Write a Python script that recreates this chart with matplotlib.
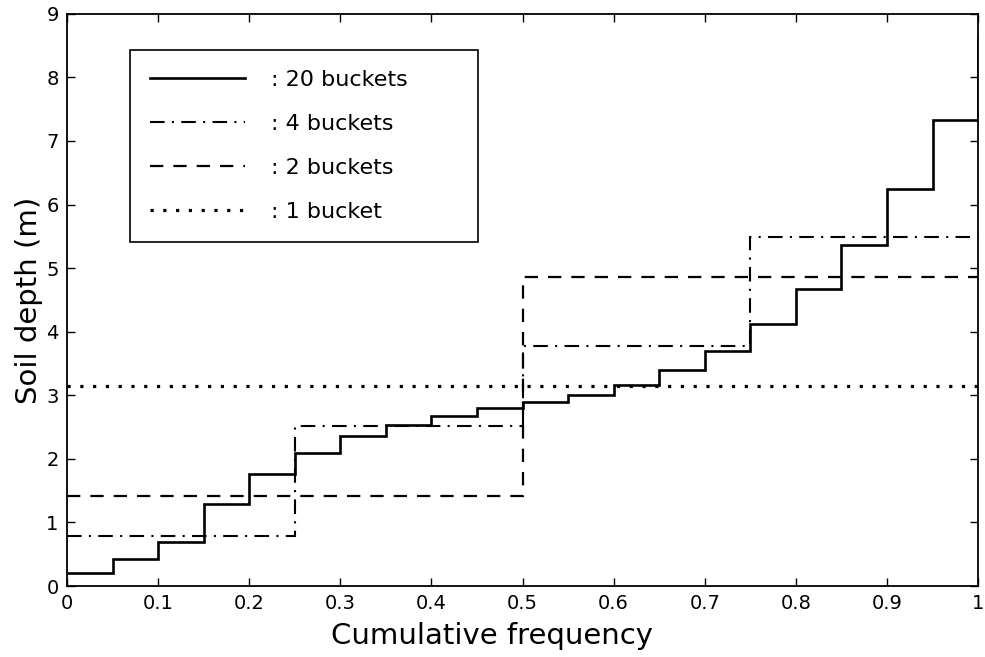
import numpy as np
import matplotlib
matplotlib.use('Agg')
import matplotlib.pyplot as plt
from matplotlib.lines import Line2D

# mean soil depth (m) of each bucket, buckets of equal cumulative frequency
DEPTH_20 = [0.20, 0.42, 0.70, 1.29, 1.76, 2.10, 2.36, 2.53, 2.67, 2.80,
            2.89, 3.01, 3.16, 3.39, 3.70, 4.12, 4.67, 5.37, 6.25, 7.33]
DEPTH_4 = [0.79, 2.52, 3.77, 5.49]
DEPTH_2 = [1.42, 4.86]
DEPTH_1 = [3.14]
MAX_DEPTH = 8.62  # deepest observed soil

LABELS = [': 20 buckets', ': 4 buckets', ': 2 buckets', ': 1 bucket']
STYLES = [
    dict(linewidth=1.9, linestyle='-'),
    dict(linewidth=1.5, linestyle=(0, (7, 3.5, 1, 3.5))),
    dict(linewidth=1.6, linestyle=(0, (6, 4.5))),
    dict(linewidth=2.3, linestyle=(0, (1, 3))),
]

plt.rcParams['font.family'] = 'DejaVu Sans'

fig = plt.figure(figsize=(9.85, 6.57), dpi=100)
ax = fig.add_axes([0.068, 0.108, 0.925, 0.871])

for depths, st in zip([DEPTH_20, DEPTH_4, DEPTH_2, DEPTH_1], STYLES):
    edges = np.linspace(0, 1, len(depths) + 1)
    ax.stairs(depths, edges, baseline=None, color='black', **st)
# last 20-bucket step climbs to the maximum depth at the right edge
ax.plot([1, 1], [DEPTH_20[-1], MAX_DEPTH], color='black', **STYLES[0])

ax.set_xlim(0, 1)
ax.set_ylim(0, 9)
ax.set_xticks(np.arange(0, 1.01, 0.1))
ax.set_xticklabels(['0', '0.1', '0.2', '0.3', '0.4', '0.5', '0.6', '0.7', '0.8', '0.9', '1'])
ax.set_yticks(range(10))
ax.tick_params(direction='in', top=True, right=True, length=6, width=1, labelsize=14, pad=6)
for s in ax.spines.values():
    s.set_linewidth(1.3)

ax.set_xlabel('Cumulative frequency', fontsize=21, labelpad=0)
ax.xaxis.set_label_coords(0.467, -0.062, transform=ax.transAxes)
ax.xaxis.label.set_verticalalignment('top')
ax.set_ylabel('Soil depth (m)', fontsize=21, labelpad=2)

handles = [Line2D([], [], color='black', **st) for st in STYLES]
leg = ax.legend(handles, LABELS, loc='upper left',
                bbox_to_anchor=(0.069, 0.5, 0.382, 0.437), mode='expand',
                fancybox=False, edgecolor='black', framealpha=1, fontsize=16,
                handlelength=4.3, handletextpad=1.15, labelspacing=1.08,
                borderpad=0.9, borderaxespad=0)
leg.get_frame().set_linewidth(1.2)

fig.savefig('out.png', dpi=100)
